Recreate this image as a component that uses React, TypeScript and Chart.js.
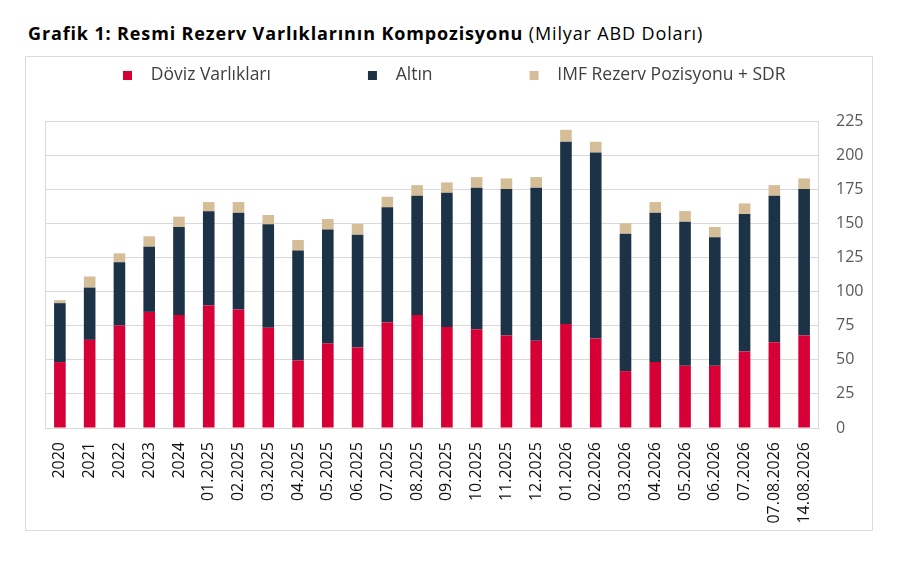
import React, { useEffect, useRef } from 'react';
import { Chart, registerables } from 'chart.js';

Chart.register(...registerables);

const categories = [
  '2020', '2021', '2022', '2023', '2024',
  '01.2025', '02.2025', '03.2025', '04.2025', '05.2025', '06.2025',
  '07.2025', '08.2025', '09.2025', '10.2025', '11.2025', '12.2025',
  '01.2026', '02.2026', '03.2026', '04.2026', '05.2026', '06.2026',
  '07.2026', '07.08.2026', '14.08.2026',
];

const dovizVarliklari = [
  48.3, 64.6, 75.1, 85.1, 82.9, 89.8, 86.8, 73.4, 49.5, 62.0, 59.0, 77.3, 82.9,
  74.1, 72.4, 67.8, 63.9, 76.3, 65.6, 41.7, 48.3, 45.6, 45.6, 56.1, 62.9, 67.8,
];

const altin = [
  43.2, 38.3, 46.4, 47.8, 64.4, 69.0, 71.0, 75.9, 80.5, 83.4, 82.7, 84.4, 87.3,
  98.3, 103.7, 107.3, 112.2, 133.5, 136.4, 100.7, 109.5, 105.6, 94.2, 100.7, 107.3, 107.3,
];

const imfRezervSdr = [
  2.2, 8.1, 6.5, 7.6, 7.6, 6.8, 7.8, 6.8, 7.8, 7.8, 7.8, 7.8, 7.8,
  7.6, 7.8, 7.8, 7.8, 8.7, 7.8, 7.6, 7.8, 7.8, 7.5, 7.8, 7.8, 7.8,
];

const seriesLabels = ['Döviz Varlıkları', 'Altın', 'IMF Rezerv Pozisyonu + SDR'];
const seriesColors = ['#D70036', '#1C3246', '#D5BE97'];

const yMin = 0;
const yMax = 225;
const yStep = 25;

const titleBold = 'Grafik 1: Resmi Rezerv Varlıklarının Kompozisyonu';
const titleNormal = ' (Milyar ABD Doları)';

const FONT = "'Open Sans', 'DejaVu Sans', sans-serif";
const LEGEND_FONT = 17.5;
const LEGEND_PAD = 20;
const SWATCH_W = 96;
const SWATCH_SIZE = 9;
const SWATCH_GAP = 18.5;

function makeSwatch(color: string): HTMLCanvasElement {
  const c = document.createElement('canvas');
  c.width = SWATCH_W;
  c.height = SWATCH_SIZE;
  const g = c.getContext('2d');
  if (g) {
    g.fillStyle = color;
    const right = Math.round(SWATCH_W + LEGEND_FONT / 2 - SWATCH_GAP);
    g.fillRect(right - SWATCH_SIZE, 0, SWATCH_SIZE, SWATCH_SIZE);
  }
  return c;
}

const plotBorder = {
  id: 'plotBorder',
  beforeDatasetsDraw(chart: any) {
    const { ctx, chartArea } = chart;
    ctx.save();
    ctx.strokeStyle = '#d9d9d9';
    ctx.lineWidth = 1;
    ctx.strokeRect(
      Math.round(chartArea.left) + 0.5,
      Math.round(chartArea.top) + 0.5,
      Math.round(chartArea.right - chartArea.left) - 1,
      Math.round(chartArea.bottom - chartArea.top),
    );
    ctx.restore();
  },
};

export default function App() {
  const canvasRef = useRef<HTMLCanvasElement | null>(null);

  useEffect(() => {
    if (!canvasRef.current) return;
    const swatches = seriesColors.map(makeSwatch);
    const seriesData = [dovizVarliklari, altin, imfRezervSdr];
    const chart = new Chart(canvasRef.current, {
      type: 'bar',
      data: {
        labels: categories,
        datasets: seriesLabels.map((label, i) => ({
          label,
          data: seriesData[i],
          backgroundColor: seriesColors[i],
          borderWidth: 0,
          barPercentage: 0.39,
          categoryPercentage: 1,
        })),
      },
      plugins: [plotBorder],
      options: {
        animation: false,
        responsive: true,
        maintainAspectRatio: false,
        layout: { padding: { left: 0, right: 3, top: 26.25, bottom: 0 } },
        font: { family: FONT },
        plugins: {
          tooltip: { enabled: false },
          title: {
            display: true,
            text: '',
            padding: 0,
            font: { size: 10, lineHeight: 2.725 },
          },
          legend: {
            position: 'top',
            align: 'start',
            fullSize: true,
            weight: 3000,
            labels: {
              usePointStyle: true,
              pointStyleWidth: SWATCH_W,
              padding: LEGEND_PAD,
              color: '#404040',
              font: { family: FONT, size: LEGEND_FONT },
              generateLabels: (c: any) =>
                c.data.datasets.map((ds: any, i: number) => ({
                  text: ds.label,
                  fillStyle: seriesColors[i],
                  strokeStyle: 'rgba(0,0,0,0)',
                  lineWidth: 0,
                  pointStyle: swatches[i],
                  rotation: 0,
                  hidden: false,
                  fontColor: '#404040',
                  datasetIndex: i,
                })),
            },
          },
        },
        scales: {
          x: {
            stacked: true,
            grid: { display: false },
            border: { display: true, color: '#d9d9d9' },
            ticks: {
              autoSkip: false,
              maxRotation: 90,
              minRotation: 90,
              padding: 6,
              color: '#111111',
              font: { family: FONT, size: 16 },
            },
            afterFit: (s: any) => {
              s.height = 102;
            },
          },
          y: {
            stacked: true,
            position: 'right',
            min: yMin,
            max: yMax,
            grid: { color: '#d9d9d9', lineWidth: 1, drawTicks: false },
            border: { display: false },
            ticks: {
              stepSize: yStep,
              padding: 17,
              color: '#595959',
              font: { family: FONT, size: 16 },
            },
            afterFit: (s: any) => {
              s.width = 50;
            },
          },
          yLeftSpacer: {
            type: 'linear',
            position: 'left',
            display: true,
            grid: { display: false },
            border: { display: false },
            ticks: { display: false },
            afterFit: (s: any) => {
              s.width = 19;
            },
          },
        },
      },
    } as any);
    return () => chart.destroy();
  }, []);

  return (
    <div style={{ position: 'absolute', left: 0, top: 0, width: 901, height: 580, background: '#fff' }}>
      <div
        style={{
          position: 'absolute',
          left: 28,
          top: 23,
          fontFamily: FONT,
          fontSize: 18,
          letterSpacing: '0.86px',
          lineHeight: '20px',
          color: '#000',
          whiteSpace: 'nowrap',
        }}
      >
        <span style={{ fontWeight: 700 }}>{titleBold}</span>
        <span style={{ fontWeight: 400 }}>{titleNormal}</span>
      </div>
      <div
        style={{
          position: 'absolute',
          left: 25,
          top: 56,
          width: 848,
          height: 475,
          boxSizing: 'border-box',
          border: '1px solid #dcdcdc',
        }}
      />
      <div style={{ position: 'absolute', left: 26, top: 20, width: 846, height: 510 }}>
        <canvas ref={canvasRef} />
      </div>
    </div>
  );
}
